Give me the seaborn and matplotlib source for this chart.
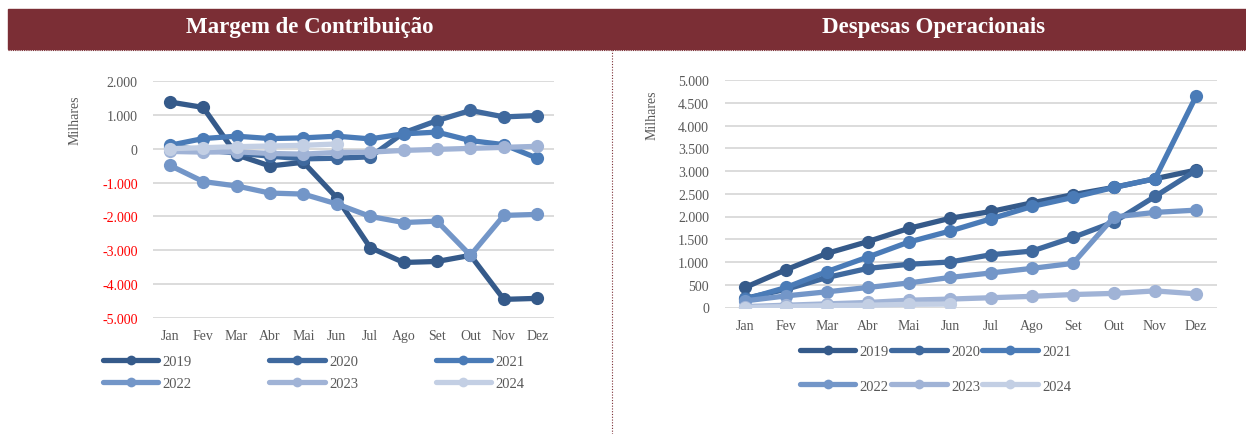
import numpy as np
import pandas as pd
import matplotlib
matplotlib.use("Agg")
import matplotlib.pyplot as plt
from matplotlib.lines import Line2D
from matplotlib.patches import Rectangle
import seaborn as sns

months = ["Jan", "Fev", "Mar", "Abr", "Mai", "Jun", "Jul", "Ago", "Set", "Out", "Nov", "Dez"]
years = ["2019", "2020", "2021", "2022", "2023", "2024"]
colors = ["#355A8A", "#3F699E", "#4A7BB7", "#7396C8", "#A0B3D6", "#C3CFE4"]

# Margem de Contribuição (milhares)
mc_2019 = [1380, 1220, -180, -510, -400, -1450, -2920, -3360, -3330, -3150, -4450, -4420]
mc_2020 = [60, -30, -130, -220, -300, -280, -240, 470, 830, 1130, 940, 980]
mc_2021 = [100, 300, 370, 300, 320, 370, 290, 440, 490, 240, 120, -280]
mc_2022 = [-490, -970, -1100, -1310, -1340, -1630, -2000, -2180, -2140, -3150, -1970, -1940]
mc_2023 = [-80, -100, -90, -140, -160, -110, -100, -50, -20, 10, 40, 70]
mc_2024 = [0, 30, 60, 80, 100, 140, np.nan, np.nan, np.nan, np.nan, np.nan, np.nan]

# Despesas Operacionais (milhares)
do_2019 = [440, 830, 1190, 1450, 1740, 1960, 2110, 2300, 2480, 2640, 2830, 3020]
do_2020 = [200, 400, 660, 860, 950, 1000, 1160, 1240, 1540, 1880, 2440, 3010]
do_2021 = [180, 440, 790, 1110, 1440, 1680, 1950, 2220, 2420, 2640, 2830, 4640]
do_2022 = [145, 255, 345, 440, 540, 660, 760, 860, 970, 1990, 2090, 2140]
do_2023 = [20, 50, 80, 110, 160, 185, 215, 245, 285, 310, 365, 300]
do_2024 = [0, 20, 40, 50, 70, 75, np.nan, np.nan, np.nan, np.nan, np.nan, np.nan]

TXT = "#595959"
GRID = "#D9D9D9"
MAROON = "#7B2E35"
SERIF = ["Liberation Serif", "DejaVu Serif"]

sns.set_theme(style="white")
plt.rcParams["font.family"] = SERIF


def fmt(v):
    return f"{int(v):,}".replace(",", ".")


def draw_chart(ax, series, ylim, ystep, red_neg):
    x = np.arange(len(months))
    for year, vals, c in zip(years, series, colors):
        df = pd.DataFrame({"m": x, "v": vals}).dropna()
        sns.lineplot(data=df, x="m", y="v", ax=ax, color=c, linewidth=3.8,
                     marker="o", markersize=9.5, markeredgewidth=0,
                     errorbar=None, legend=False)
    ax.set_xlim(-0.5, len(months) - 0.5)
    ax.set_ylim(*ylim)
    ticks = np.arange(ylim[0], ylim[1] + 1, ystep)
    ax.set_yticks(ticks)
    ax.set_yticklabels([fmt(t) for t in ticks])
    if red_neg:
        for t, lab in zip(ticks, ax.get_yticklabels()):
            lab.set_color("#FF0000" if t < 0 else TXT)
    else:
        for lab in ax.get_yticklabels():
            lab.set_color(TXT)
    ax.set_xticks(x)
    ax.set_xticklabels(months, color=TXT)
    ax.tick_params(axis="y", length=0, pad=11, labelsize=10)
    ax.tick_params(axis="x", length=0, pad=8, labelsize=10)
    ax.grid(axis="y", color=GRID, linewidth=1.3)
    ax.set_axisbelow(True)
    for s in ax.spines.values():
        s.set_visible(False)
    ax.set_xlabel("")
    ax.set_ylabel("Milhares", color=TXT, fontsize=10)


fig = plt.figure(figsize=(12.46, 4.35), dpi=100)

# header band and separators
fig.patches.append(Rectangle((8 / 1246, 1 - 50 / 435), 1 - 8 / 1246, 40 / 435,
                             transform=fig.transFigure, color=MAROON, zorder=0))
fig.lines.append(Line2D([8 / 1246, 1], [1 - 51 / 435, 1 - 51 / 435], transform=fig.transFigure,
                        color=MAROON, linewidth=0.8, linestyle=(0, (1, 1))))
fig.lines.append(Line2D([612 / 1246, 612 / 1246], [0, 1 - 51 / 435], transform=fig.transFigure,
                        color=MAROON, linewidth=0.8, linestyle=(0, (1, 1.5))))
fig.text(310 / 1246, 1 - 27 / 435, "Margem de Contribuição", color="white", fontsize=16.5,
         fontweight="bold", ha="center", va="center")
fig.text(934 / 1246, 1 - 27 / 435, "Despesas Operacionais", color="white", fontsize=16.5,
         fontweight="bold", ha="center", va="center")

ax1 = fig.add_axes([153 / 1246, 1 - 319 / 435, 401 / 1246, 237 / 435])
draw_chart(ax1, [mc_2019, mc_2020, mc_2021, mc_2022, mc_2023, mc_2024], (-5000, 2000), 1000, True)
ax1.yaxis.set_label_coords(-0.177, 0.84)

ax2 = fig.add_axes([724.5 / 1246, 1 - 308.5 / 435, 492 / 1246, 227.5 / 435])
draw_chart(ax2, [do_2019, do_2020, do_2021, do_2022, do_2023, do_2024], (0, 5000), 500, False)
ax2.yaxis.set_label_coords(-0.135, 0.85)

handles = [Line2D([0], [0], color=c, linewidth=3.8, marker="o", markersize=7,
                  markeredgewidth=0, solid_capstyle="round") for c in colors]
# legend fills by column, so reorder to get 2019-2021 on the first row
order = [0, 3, 1, 4, 2, 5]
leg_h = [handles[i] for i in order]
leg_l = [years[i] for i in order]

fig.legend(leg_h, leg_l, loc="upper left", bbox_to_anchor=(103 / 1246, 1 - 356 / 435),
           ncol=3, frameon=False, fontsize=10.5, labelcolor=TXT, handlelength=3.8,
           handletextpad=0.3, columnspacing=5.3, labelspacing=0.6, borderpad=0,
           borderaxespad=0)
fig.legend(leg_h, leg_l, loc="upper left", bbox_to_anchor=(800 / 1246, 1 - 346 / 435),
           ncol=3, frameon=False, fontsize=10.5, labelcolor=TXT, handlelength=3.8,
           handletextpad=0.3, columnspacing=0.15, labelspacing=1.45, borderpad=0,
           borderaxespad=0)

fig.savefig("out.png", dpi=100)
